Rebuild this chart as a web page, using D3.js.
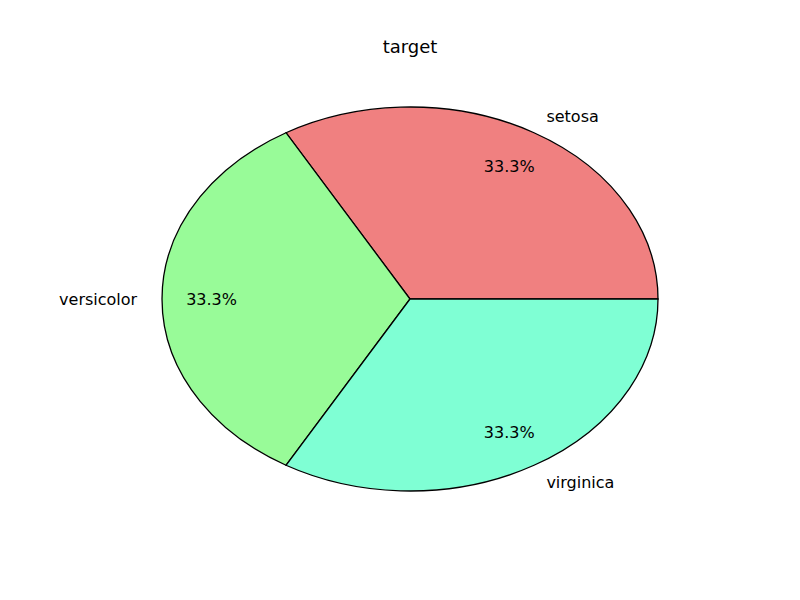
<!DOCTYPE html>
<html><head><meta charset="utf-8">
<script src="https://cdn.jsdelivr.net/npm/d3@7"></script>
<style>body{margin:0;background:#fff}text{font-family:"DejaVu Sans",sans-serif}</style>
</head><body>
<script>
const categories = ["setosa","versicolor","virginica"];
const values = [50,50,50];
const colors = ["#F08080","#98FB98","#7FFFD4"];
const W=800,H=600,cx=410,cy=299,rx=248,ry=192;
const svg=d3.select("body").append("svg").attr("width",W).attr("height",H);
svg.append("text").attr("x",410).attr("y",53).attr("text-anchor","middle").style("font-size","18px").text("target");
// matplotlib: start at east, counterclockwise. d3 angles: 0 at north, clockwise.
const pie=d3.pie().sort(null).startAngle(Math.PI/2).endAngle(Math.PI/2-2*Math.PI);
const arcs=pie(values);
const arc=d3.arc().innerRadius(0).outerRadius(1);
const g=svg.append("g").attr("transform",`translate(${cx},${cy}) scale(${rx},${ry})`);
g.selectAll("path").data(arcs).join("path").attr("d",arc).attr("fill",(d,i)=>colors[i])
 .attr("stroke","#000").attr("stroke-width",1.3).attr("vector-effect","non-scaling-stroke");
const total=d3.sum(values);
arcs.forEach((d,i)=>{
  const a=(d.startAngle+d.endAngle)/2; // d3 angle
  const dx=Math.sin(a), dy=-Math.cos(a);
  const lx=cx+1.1*rx*dx, ly=cy+1.1*ry*dy;
  svg.append("text").attr("x",lx).attr("y",ly).attr("dy","0.35em")
    .attr("text-anchor",dx>0.01?"start":(dx<-0.01?"end":"middle")).style("font-size","16px").text(categories[i]);
  svg.append("text").attr("x",cx+0.8*rx*dx).attr("y",cy+0.8*ry*dy).attr("dy","0.35em")
    .attr("text-anchor","middle").style("font-size","16px").text((values[i]/total*100).toFixed(1)+"%");
});
</script>
</body></html>
